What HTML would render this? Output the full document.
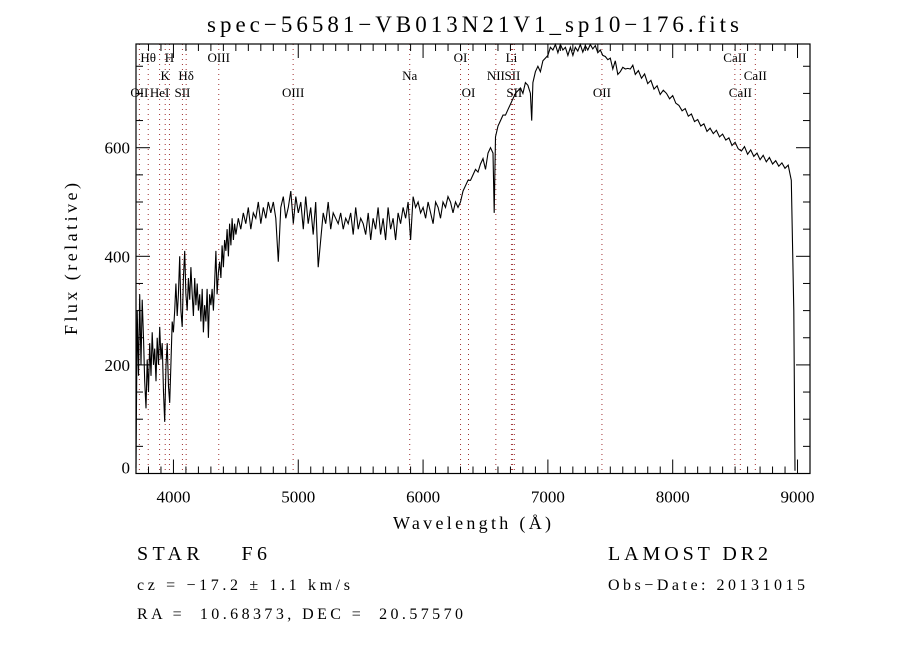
<!DOCTYPE html>
<html><head><meta charset="utf-8"><style>
body{margin:0;background:#fff;}
svg text{font-family:"Liberation Serif","DejaVu Serif",serif;fill:#000;}
</style></head><body>
<svg id="chart" width="900" height="650" viewBox="0 0 900 650" xmlns="http://www.w3.org/2000/svg">
<rect width="900" height="650" fill="#fff"/>
<text x="207" y="32" font-size="23" textLength="532" lengthAdjust="spacing">spec−56581−VB013N21V1_sp10−176.fits</text>
<g id="lines"></g>
<g id="axes"></g>
<path id="spec" fill="none" stroke="#000" stroke-width="1.1"/>
<text transform="translate(77,335) rotate(-90)" font-size="18" textLength="152" lengthAdjust="spacing">Flux (relative)</text>
<text x="393" y="529" font-size="18" textLength="158" lengthAdjust="spacing">Wavelength (Å)</text>
<text x="137" y="560" font-size="20" textLength="130" lengthAdjust="spacing" xml:space="preserve">STAR    F6</text>
<text x="608" y="560" font-size="20" textLength="160" lengthAdjust="spacing">LAMOST DR2</text>
<text x="137" y="590" font-size="16" textLength="213" lengthAdjust="spacing" xml:space="preserve">cz = −17.2 ± 1.1 km/s</text>
<text x="608" y="590" font-size="16" textLength="197" lengthAdjust="spacing">Obs−Date: 20131015</text>
<text x="137" y="619" font-size="16" textLength="326" lengthAdjust="spacing" xml:space="preserve">RA =  10.68373, DEC =  20.57570</text>
</svg>
<script>
const wave = [3700,3710,3720,3730,3740,3750,3760,3770,3780,3790,3800,3810,3820,3830,3840,3850,3860,3870,3880,3890,3900,3910,3920,3930,3940,3950,3960,3970,3980,3990,4000,4010,4020,4030,4040,4050,4060,4070,4080,4090,4100,4110,4120,4130,4140,4150,4160,4170,4180,4190,4200,4210,4220,4230,4240,4250,4260,4270,4280,4290,4300,4310,4320,4330,4340,4350,4360,4370,4380,4390,4400,4410,4420,4430,4440,4450,4460,4470,4480,4490,4500,4520,4540,4560,4580,4600,4620,4640,4660,4680,4700,4720,4740,4760,4780,4800,4820,4840,4860,4880,4900,4920,4940,4960,4980,5000,5020,5040,5060,5080,5100,5120,5140,5160,5180,5200,5220,5240,5260,5280,5300,5320,5340,5360,5380,5400,5420,5440,5460,5480,5500,5520,5540,5560,5580,5600,5620,5640,5660,5680,5700,5720,5740,5760,5780,5800,5820,5840,5860,5880,5900,5920,5940,5960,5980,6000,6020,6040,6060,6080,6100,6120,6140,6160,6180,6200,6220,6240,6260,6280,6300,6320,6340,6360,6380,6400,6420,6440,6460,6480,6500,6520,6540,6560,6570,6580,6600,6620,6640,6660,6680,6700,6720,6740,6760,6780,6800,6820,6840,6860,6870,6880,6900,6920,6940,6960,6980,7000,7020,7040,7060,7080,7100,7120,7140,7160,7180,7200,7220,7240,7260,7280,7300,7320,7340,7360,7380,7400,7420,7440,7460,7480,7500,7520,7540,7560,7580,7600,7620,7640,7660,7680,7700,7725,7750,7775,7800,7825,7850,7875,7900,7925,7950,7975,8000,8025,8050,8075,8100,8125,8150,8175,8200,8225,8250,8275,8300,8325,8350,8375,8400,8425,8450,8475,8500,8525,8550,8575,8600,8625,8650,8675,8700,8725,8750,8775,8800,8825,8850,8875,8900,8925,8950,8970,8980,8990,9000];
const flux = [10,300,180,330,200,320,250,170,120,210,150,240,180,260,200,230,170,250,200,270,210,240,150,95,200,240,160,130,200,280,260,300,350,290,330,400,300,270,360,410,330,300,360,320,380,330,290,360,310,350,300,330,280,340,260,310,280,340,250,330,310,340,300,350,410,330,370,390,360,420,380,430,410,450,400,460,420,470,430,460,440,470,450,480,460,490,450,480,470,500,460,490,470,500,480,500,470,390,490,510,470,490,520,460,510,480,500,450,510,460,490,440,500,380,430,480,460,500,450,480,470,460,480,450,470,460,480,440,490,450,470,460,440,480,430,470,450,490,440,470,430,490,450,470,430,480,460,490,470,500,430,510,490,500,480,490,470,500,480,460,500,490,470,500,490,510,500,480,500,490,500,520,530,540,540,550,560,555,570,580,560,590,600,590,480,620,640,650,660,660,670,680,690,700,705,710,700,720,715,700,650,720,740,750,740,760,765,770,785,780,790,775,790,780,785,770,785,770,785,778,790,776,788,780,790,782,788,775,780,770,768,762,765,745,760,735,740,748,745,746,745,752,735,742,728,736,718,724,708,714,698,706,700,690,696,682,678,668,672,658,662,648,652,640,644,630,636,626,632,620,625,614,618,604,610,598,594,602,588,596,584,590,578,586,574,582,570,576,566,572,562,568,540,300,5];
const ticksX = [4000,5000,6000,7000,8000,9000];
const ticksY = [0,200,400,600];
const lineWave = [3727,3798,3889,3934,3968,4072,4102,4363,4959,5893,6300,6364,6583,6708,6716,6731,7433,8498,8542,8662];
const labelText = ["OII","Hθ","HeI","K","H","SII","Hδ","OIII","OIII","Na","OI","OI","NII","Li","SII","SII","OII","CaII","CaII","CaII"];
const labelRow = [3,1,3,2,1,3,2,1,3,2,1,3,2,1,2,3,3,1,3,2];
const L=136,R=810,T=44,B=473.5, X0=3700,X1=9100, Y0=0,Y1=791;
const xs = w => L+(w-X0)/(X1-X0)*(R-L);
const ys = f => B-(f-Y0)/(Y1-Y0)*(B-T);
const NS="http://www.w3.org/2000/svg";
function mk(tag,attrs,parent){const e=document.createElementNS(NS,tag);for(const k in attrs)e.setAttribute(k,attrs[k]);parent.appendChild(e);return e;}
const axes=document.getElementById('axes');
const frame=mk('rect',{x:L,y:T,width:R-L,height:B-T,fill:'none',stroke:'#000','stroke-width':1.2},axes);


for(let w=3700;w<=9100;w+=100){
  const x=xs(w), major=w%1000===0, len=major?14:7;
  const t1=mk('line',{x1:x,x2:x,y1:B,y2:B-len,stroke:'#000'},axes);
  
  
  const t2=mk('line',{x1:x,x2:x,y1:T,y2:T+len,stroke:'#000'},axes);
  
  
}
ticksX.forEach(w=>{const t=mk('text',{x:xs(w),y:B+29,'font-size':17,'text-anchor':'middle'},axes);t.textContent=w;
  
  });
for(let f=0;f<=790;f+=50){
  const y=ys(f), major=f%200===0, len=major?14:7;
  const t1=mk('line',{x1:L,x2:L+len,y1:y,y2:y,stroke:'#000'},axes);
  
  
  const t2=mk('line',{x1:R,x2:R-len,y1:y,y2:y,stroke:'#000'},axes);
  
  
}
ticksY.forEach(f=>{const t=mk('text',{x:L-6,y:ys(f)+(f===0?0:6),'font-size':17,'text-anchor':'end'},axes);t.textContent=f;
  
  });
const lg=document.getElementById('lines');
const rowY={1:62,2:80,3:97};
lineWave.forEach((w,i)=>{
  const x=xs(w);
  const l=mk('line',{x1:x,x2:x,y1:T,y2:B,stroke:'#a03030','stroke-width':1,'stroke-dasharray':'1,4'},lg);
  
  
  const t=mk('text',{x:x,y:rowY[labelRow[i]],'font-size':13,'text-anchor':'middle'},lg);
  t.textContent=labelText[i];
  
  
});
let d='';
wave.forEach((w,i)=>{d+=(i?'L':'M')+xs(w).toFixed(1)+','+ys(flux[i]).toFixed(1);});
document.getElementById('spec').setAttribute('d',d);
</script>
</body></html>
